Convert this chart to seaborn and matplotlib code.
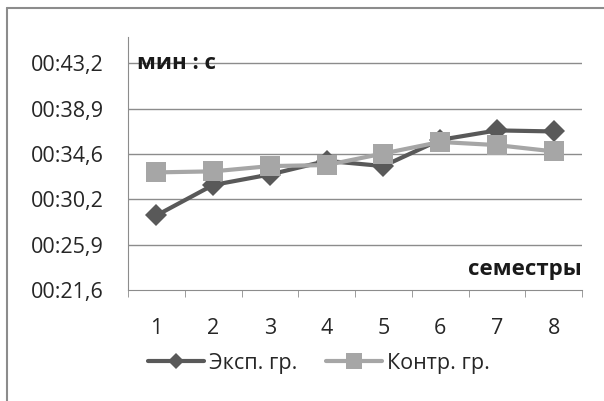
import matplotlib
matplotlib.use("Agg")
import matplotlib.pyplot as plt
import seaborn as sns
import pandas as pd
from matplotlib.lines import Line2D

semesters = [1, 2, 3, 4, 5, 6, 7, 8]
exp_group = [28.7, 31.6, 32.6, 33.9, 33.4, 35.9, 36.8, 36.7]
ctrl_group = [32.8, 32.9, 33.4, 33.5, 34.6, 35.7, 35.4, 34.8]
y_ticks = [21.6, 25.92, 30.24, 34.56, 38.88, 43.2]
y_labels = ["00:21,6", "00:25,9", "00:30,2", "00:34,6", "00:38,9", "00:43,2"]

sns.set_style("white")
plt.rcParams["font.family"] = ["Open Sans", "DejaVu Sans"]

df = pd.DataFrame({
    "sem": semesters * 2,
    "val": exp_group + ctrl_group,
    "grp": ["Эксп. гр."] * 8 + ["Контр. гр."] * 8,
})

fig = plt.figure(figsize=(6.04, 4.01), dpi=100)
ax = fig.add_axes([128 / 604, 1 - 290 / 401, (582 - 128) / 604, (290 - 37) / 401])

for name, color, marker, ms in [("Эксп. гр.", "#595959", "D", 11.5),
                                ("Контр. гр.", "#a6a6a6", "s", 15)]:
    sub = df[df["grp"] == name]
    sns.lineplot(data=sub, x="sem", y="val", ax=ax, color=color, lw=3,
                 marker=marker, markersize=ms, markeredgewidth=0,
                 label=name, zorder=3)

ax.set_xlim(0.5, 8.5)
ax.set_ylim(21.6, 21.6 + (290 - 37) / 10.5)
ax.set_yticks(y_ticks)
ax.set_yticklabels(y_labels)
ax.set_xticks(semesters)
ax.set_xticks([i + 0.5 for i in range(0, 9)], minor=True)
ax.set_xlabel("")
ax.set_ylabel("")
for y in y_ticks[1:]:
    ax.axhline(y, color="#8c8c8c", lw=1, zorder=1)

for s in ["top", "right"]:
    ax.spines[s].set_visible(False)
ax.spines["left"].set_color("#8c8c8c")
ax.spines["bottom"].set_color("#8c8c8c")
ax.tick_params(axis="y", which="major", length=4.5, color="#8c8c8c", labelsize=15.5, pad=13, labelcolor="#262626")
ax.tick_params(axis="x", which="major", length=0, labelsize=15.5, pad=20, labelcolor="#262626")
ax.tick_params(axis="x", which="minor", length=5, color="#8c8c8c", bottom=True)

ax.text(0.02, 43.2, "мин : с", fontsize=16, fontweight="bold", va="center",
        ha="left", transform=ax.get_yaxis_transform(), color="#1a1a1a")
ax.text(1.0, 0.059, "семестры", fontsize=16, fontweight="bold", va="baseline",
        ha="right", transform=ax.transAxes, color="#1a1a1a")

ax.legend(loc="center left", bbox_to_anchor=(0.02, -0.289), ncol=2, frameon=False,
          fontsize=15.5, handlelength=2.6, handletextpad=0.25, columnspacing=1.3,
          borderpad=0, markerscale=0.75, labelcolor="#262626")

# chart frame: only left and top edges are visible in the original crop
bx, by = 6.5 / 604, 1 - 7.5 / 401
fig.lines.append(Line2D([bx, bx], [0, by], transform=fig.transFigure, color="#8c8c8c", lw=1.5))
fig.lines.append(Line2D([bx, 1], [by, by], transform=fig.transFigure, color="#8c8c8c", lw=1.5))

fig.savefig("out.png", dpi=100)
